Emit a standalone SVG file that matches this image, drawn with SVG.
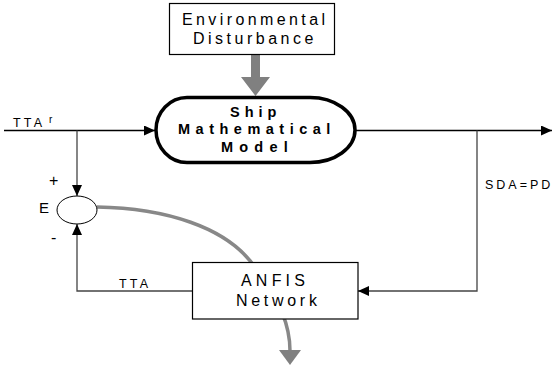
<svg xmlns="http://www.w3.org/2000/svg" width="557" height="367" viewBox="0 0 557 367">
<style>
  .box { fill: #fff; stroke: #000; stroke-width: 1.2; }
  .ln { fill: none; stroke: #000; stroke-width: 1.3; }
  .lg { fill: none; stroke: #444; stroke-width: 1.3; }
  .t { font-family: "Liberation Sans", Arial, sans-serif; fill: #000; }
  .grey { fill: #808080; }
</style>
<defs>
  <marker id="ah" markerUnits="userSpaceOnUse" markerWidth="12" markerHeight="10" refX="11" refY="5" orient="auto">
    <path d="M0,0 L11,5 L0,10 Z" fill="#000"/>
  </marker>
</defs>
<g id="connectors">
  <line class="ln" x1="4" y1="130.5" x2="155" y2="130.5" marker-end="url(#ah)"/>
  <line class="ln" x1="356" y1="130.5" x2="552" y2="130.5" marker-end="url(#ah)"/>
  <polyline class="lg" points="77,130.5 77,196" marker-end="url(#ah)"/>
  <polyline class="lg" points="193,291 77,291 77,224" marker-end="url(#ah)"/>
  <polyline class="lg" points="477,130.5 477,291 358,291" marker-end="url(#ah)"/>
  <path d="M97,207 C160,208 230,225 258,272 C280,302 290,325 290,351" fill="none" stroke="#888" stroke-width="3.5"/>
  <polygon class="grey" points="279,350 301,350 290,365"/>
  <polygon class="grey" points="251,54 260,54 260,77 270,77 255.5,96 241,77 251,77"/>
  <text class="t" x="13" y="127" font-size="12.5" letter-spacing="3.2">TTA</text>
  <text class="t" x="49" y="123" font-size="10">r</text>
  <text class="t" x="119" y="288" font-size="12.5" letter-spacing="3.2">TTA</text>
  <text class="t" x="485" y="189" font-size="12.5" letter-spacing="3">SDA=PD</text>
  <text class="t" x="49" y="186" font-size="16">+</text>
  <text class="t" x="51" y="243" font-size="16">-</text>
</g>
<g id="disturbance">
  <rect class="box" x="169.5" y="3.5" width="165" height="51"/>
  <text class="t" x="182" y="25" font-size="16" letter-spacing="3.4">Environmental</text>
  <text class="t" x="193" y="44" font-size="16" letter-spacing="3.5">Disturbance</text>
</g>
<g id="ship">
  <path d="M187,97.5 L310,97.5 A45,32.5 0 0 1 310,162.5 L187,162.5 A31,32.5 0 0 1 187,97.5 Z" fill="#fff" stroke="#000" stroke-width="3.5"/>
  <text class="t" x="230" y="117" font-size="14.5" font-weight="bold" letter-spacing="5">Ship</text>
  <text class="t" x="178" y="134" font-size="14.5" font-weight="bold" letter-spacing="5.5">Mathematical</text>
  <text class="t" x="221" y="152" font-size="14.5" font-weight="bold" letter-spacing="6.2">Model</text>
</g>
<g id="sum">
  <ellipse cx="77" cy="210" rx="20" ry="14" fill="#fff" stroke="#000" stroke-width="1"/>
  <text class="t" x="39" y="213" font-size="15">E</text>
</g>
<g id="anfis">
  <rect class="box" x="192.5" y="262.5" width="165.5" height="56.5"/>
  <text class="t" x="241" y="286" font-size="16" letter-spacing="4.2">ANFIS</text>
  <text class="t" x="236" y="306" font-size="16" letter-spacing="3.7">Network</text>
</g>
</svg>
